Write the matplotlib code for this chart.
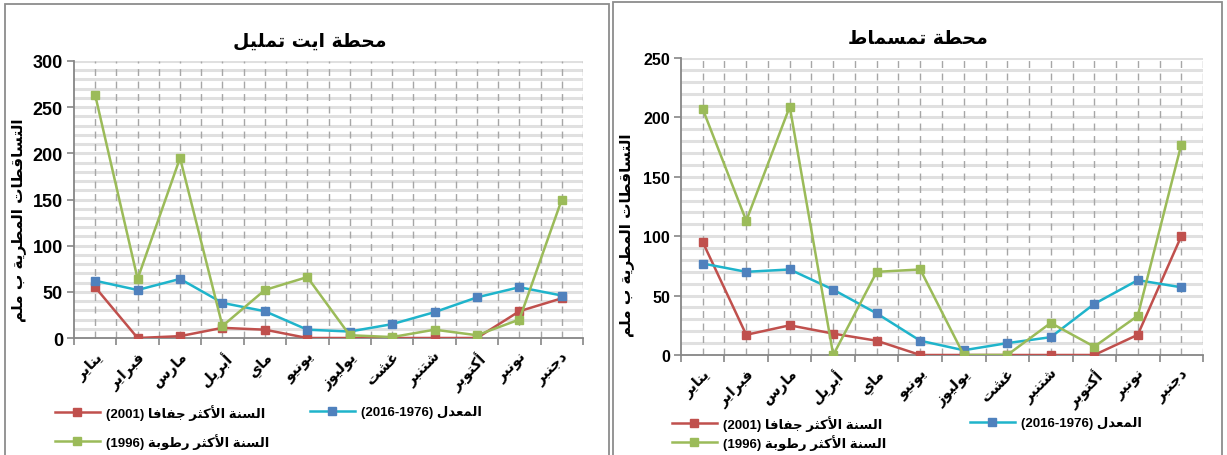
import matplotlib
matplotlib.use("Agg")
import matplotlib.pyplot as plt
from matplotlib.patches import Rectangle
import numpy as np

plt.rcParams["font.family"] = ["Liberation Sans", "DejaVu Sans"]
plt.rcParams["font.weight"] = "bold"

MONTHS = ["يناير", "فبراير", "مارس", "أبريل", "ماي", "يونيو",
          "يوليوز", "غشت", "شتنبر", "أكتوبر", "نونبر", "دجنبر"]

# محطة ايت تمليل
TAMLIL_DRY = [55, 0, 2, 11, 9, 0, 0, 0, 0, 0, 29, 43]
TAMLIL_MEAN = [62, 52, 64, 38, 29, 9, 7, 15, 28, 44, 55, 46]
TAMLIL_WET = [263, 64, 195, 13, 52, 66, 3, 1, 9, 3, 20, 150]

# محطة تمسماط
TAMSMAT_DRY = [95, 17, 25, 18, 12, 0, 0, 0, 0, 0, 17, 100]
TAMSMAT_MEAN = [77, 70, 72, 55, 35, 12, 4, 10, 15, 43, 63, 57]
TAMSMAT_WET = [207, 113, 209, 0, 70, 72, 0, 0, 27, 7, 33, 177]

TITLES = ["محطة ايت تمليل", "محطة تمسماط"]
YLABEL = "التساقطات المطرية ب ملم"
LBL_DRY = ("السنة الأكثر جفافا", "(2001)")
LBL_MEAN = ("المعدل", "(2016-1976)")
LBL_WET = ("السنة الأكثر رطوبة", "(1996)")

RED, CYAN, BLUE, GREEN = "#C0504D", "#1FB4CB", "#4F81BD", "#9BBB59"

# --- minimal arabic shaping (no bidi lib available) ---
DUAL = {"ب": 0xFE8F, "ت": 0xFE95, "ث": 0xFE99, "ج": 0xFE9D, "ح": 0xFEA1, "خ": 0xFEA5,
        "س": 0xFEB1, "ش": 0xFEB5, "ص": 0xFEB9, "ض": 0xFEBD, "ط": 0xFEC1, "ظ": 0xFEC5,
        "ع": 0xFEC9, "غ": 0xFECD, "ف": 0xFED1, "ق": 0xFED5, "ك": 0xFED9, "ل": 0xFEDD,
        "م": 0xFEE1, "ن": 0xFEE5, "ه": 0xFEE9, "ي": 0xFEF1}
RIGHT = {"ا": 0xFE8D, "أ": 0xFE83, "إ": 0xFE87, "آ": 0xFE81, "ة": 0xFE93, "د": 0xFEA9,
         "ذ": 0xFEAB, "ر": 0xFEAD, "ز": 0xFEAF, "و": 0xFEED, "ى": 0xFEEF}
LAM_ALEF = {"ا": 0xFEFB, "أ": 0xFEF7, "إ": 0xFEF9, "آ": 0xFEF5}


def rtl(s):
    toks, i = [], 0
    while i < len(s):
        if s[i] == "ل" and i + 1 < len(s) and s[i + 1] in LAM_ALEF:
            toks.append(("LA", s[i + 1])); i += 2
        else:
            toks.append(("C", s[i])); i += 1
    is_letter = lambda t: t[0] == "LA" or t[1] in DUAL or t[1] in RIGHT
    joins_next = lambda t: t[0] == "C" and t[1] in DUAL
    out = []
    for k, t in enumerate(toks):
        p = k > 0 and joins_next(toks[k - 1]) and is_letter(t)
        n = k + 1 < len(toks) and joins_next(t) and is_letter(toks[k + 1])
        if t[0] == "LA":
            out.append(chr(LAM_ALEF[t[1]] + (1 if p else 0)))
        elif t[1] in DUAL:
            out.append(chr(DUAL[t[1]] + (3 if p and n else 2 if n else 1 if p else 0)))
        elif t[1] in RIGHT:
            out.append(chr(RIGHT[t[1]] + (1 if p else 0)))
        else:
            out.append(t[1])
    return "".join(reversed(out))


W, H = 1227, 456
fig = plt.figure(figsize=(W / 100, H / 100), dpi=100)

# panel frames
for x0, y0, x1 in [(5, 5, 609), (613, 3, 1222)]:
    fig.patches.append(Rectangle((x0 / W, -0.1), (x1 - x0) / W, 1.1 - y0 / H,
                                 transform=fig.transFigure, fill=False,
                                 edgecolor="#8c8c8c", lw=1.3))


def fx(px): return px / W
def fy(py): return 1 - py / H


def panel(rect_px, dry, mean, wet, ymax, title, title_xy, tick_fs, ylab_x, ylab_y, leg):
    l, t, r, b = rect_px
    ax = fig.add_axes([fx(l), fy(b), fx(r) - fx(l), fy(t) - fy(b)])
    x = np.arange(len(MONTHS))
    ax.set_xlim(-0.5, 11.5)
    ax.set_ylim(0, ymax)
    for yv in np.arange(10, ymax + 1, 10):
        ax.axhline(yv, color="#e0e0e0", lw=2.2, zorder=0)
    for xv in np.arange(0, 12, 0.5):
        ax.axvline(xv, color="#a6a6a6", lw=1, ls=(0, (5, 4)), zorder=0.5)
    h1, = ax.plot(x, dry, color=RED, lw=1.8, marker="s", ms=5.5, zorder=3)
    h2, = ax.plot(x, mean, color=CYAN, lw=1.8, marker="s", ms=5.5, mfc=BLUE, mec=BLUE, zorder=3)
    h3, = ax.plot(x, wet, color=GREEN, lw=1.8, marker="s", ms=5.5, zorder=3)
    for s in ["top", "right"]:
        ax.spines[s].set_visible(False)
    for s in ["left", "bottom"]:
        ax.spines[s].set_color("#868686")
        ax.spines[s].set_linewidth(1.3)
    ax.set_yticks(np.arange(0, ymax + 1, 50))
    ax.tick_params(axis="y", labelsize=tick_fs, colors="#868686", labelcolor="black",
                   length=5, width=1.2, pad=3)
    ax.set_xticks(x)
    ax.set_xticklabels([rtl(m) for m in MONTHS], rotation=45, ha="right", va="top",
                       rotation_mode="anchor", fontsize=10.5, fontweight="bold")
    ax.tick_params(axis="x", which="major", length=0, pad=8)
    ax.set_xticks(np.arange(-0.5, 12, 1), minor=True)
    ax.tick_params(axis="x", which="minor", length=5, width=1.2, colors="#868686")
    fig.text(fx(title_xy[0]), fy(title_xy[1]), rtl(title), ha="center", va="center",
             fontsize=13.5, fontweight="bold", family="DejaVu Sans")
    fig.text(fx(ylab_x), fy(ylab_y), rtl(YLABEL), rotation=90, ha="center", va="center",
             fontsize=11, fontweight="bold", family="DejaVu Sans")
    for h, (ar, num), (px, py) in zip([h1, h2, h3], [LBL_DRY, LBL_MEAN, LBL_WET], leg):
        fig.legend([h], [num + " " + rtl(ar)], loc="center left",
                   bbox_to_anchor=(fx(px), fy(py)), frameon=False, fontsize=9.5,
                   borderpad=0, borderaxespad=0, handlelength=3.4, handletextpad=0.5)
    return ax


panel((74, 62, 583, 339), TAMLIL_DRY, TAMLIL_MEAN, TAMLIL_WET, 300, TITLES[0], (310, 41),
      13, 19, 220, [(55, 413), (310, 413), (55, 442)])
panel((681, 59, 1203, 356), TAMSMAT_DRY, TAMSMAT_MEAN, TAMSMAT_WET, 250, TITLES[1], (918, 38),
      11.5, 626, 235, [(672, 424), (970, 424), (672, 443)])

fig.savefig("out.png", dpi=100)
